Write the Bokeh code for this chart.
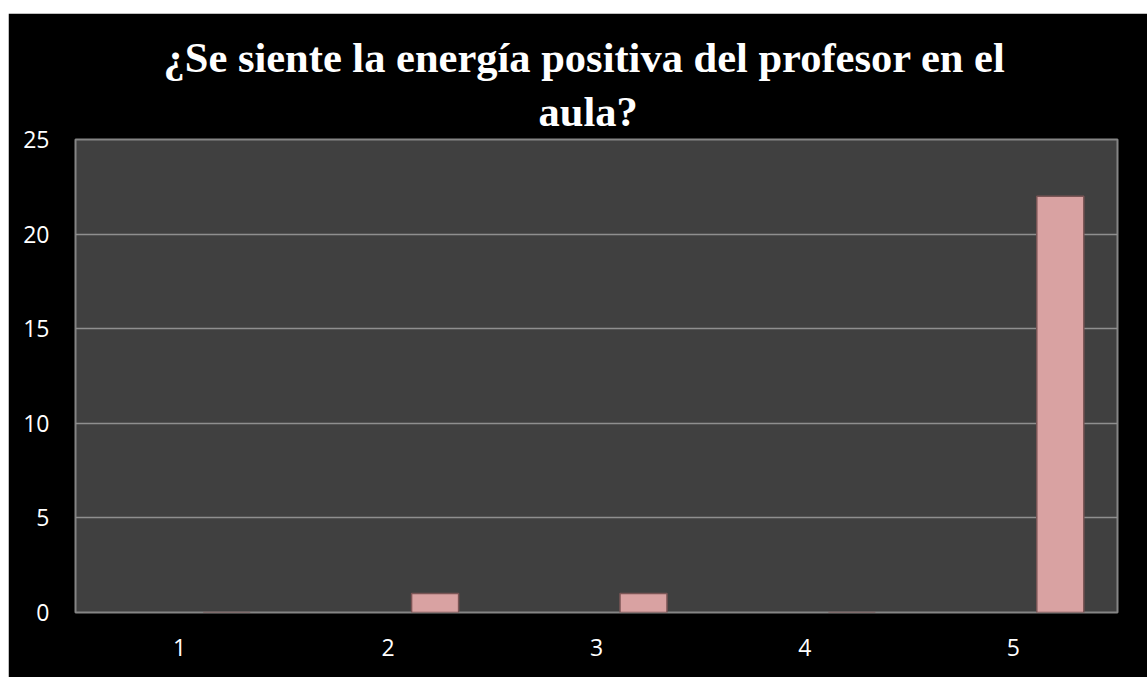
from bokeh.plotting import figure
from bokeh.models import ColumnDataSource, FactorRange, Range1d, FixedTicker, Title, Spacer
from bokeh.layouts import column, row
from bokeh.transform import dodge
from bokeh.embed import file_html
from bokeh.resources import INLINE

categories = ["1", "2", "3", "4", "5"]
values = [0, 1, 1, 0, 22]
y_ticks = [0, 5, 10, 15, 20, 25]
title_lines = ["¿Se siente la energía positiva del profesor en el", "aula?"]

src = ColumnDataSource(dict(cat=categories, val=values))

p = figure(
    x_range=FactorRange(*categories, range_padding=0),
    y_range=Range1d(0, 25),
    width=1139, height=664,
    output_backend="svg", toolbar_location=None,
    min_border_left=67, min_border_right=30, min_border_top=126, min_border_bottom=65,
    background_fill_color="#404040", border_fill_color="#000000",
    outline_line_color="#858585", outline_line_width=2,
)

# second line first (closest to the frame), then first line above it
title_offsets = [463, 88]
title_standoffs = [9, 1]
for line, off, sto in zip(reversed(title_lines), title_offsets, title_standoffs):
    t = Title(text=line, align="left", text_color="white",
              text_font="Liberation Serif", text_font_style="bold",
              text_font_size="42.5px", offset=off, standoff=sto)
    p.add_layout(t, "above")

p.vbar(x=dodge("cat", 0.2255, range=p.x_range), top="val", width=0.2255, bottom=0,
       source=src, fill_color="#d9a2a2", line_color="#7a5555", line_width=1.5)

p.yaxis.ticker = FixedTicker(ticks=y_ticks)
for ax in (p.xaxis[0], p.yaxis[0]):
    ax.axis_line_color = None
    ax.major_tick_line_color = None
    ax.minor_tick_line_color = None
    ax.major_label_text_color = "white"
    ax.major_label_text_font = "Open Sans"
    ax.major_label_text_font_size = "23px"
p.yaxis.major_label_standoff = 20
p.xaxis.major_label_standoff = 20

p.xgrid.grid_line_color = None
p.ygrid.grid_line_color = "#8f8f8f"
p.ygrid.grid_line_width = 1.5

layout = column(Spacer(height=13, width=1147), row(Spacer(width=8, height=664), p))
open("out.html", "w").write(file_html(layout, INLINE))
